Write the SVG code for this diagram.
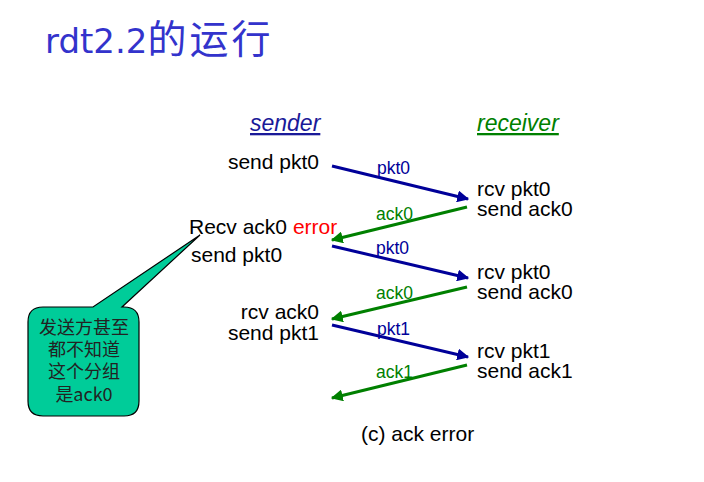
<svg xmlns="http://www.w3.org/2000/svg" width="704" height="482" viewBox="0 0 704 482">
<defs>
<style>
.t{font-family:"Liberation Sans",Arial,sans-serif;font-size:21px;fill:#000}
.lb{font-family:"Liberation Sans",Arial,sans-serif;font-size:17.5px}
.blue{stroke:#000099;stroke-width:3;fill:none}
.green{stroke:#008000;stroke-width:3;fill:none}
</style>
<marker id="ab" viewBox="0 0 10 10" refX="9" refY="5" markerWidth="4" markerHeight="4" orient="auto" markerUnits="strokeWidth"><path d="M0,0 L10,5 L0,10 Z" fill="#000099"/></marker>
<marker id="ag" viewBox="0 0 10 10" refX="9" refY="5" markerWidth="4" markerHeight="4" orient="auto" markerUnits="strokeWidth"><path d="M0,0 L10,5 L0,10 Z" fill="#008000"/></marker>
</defs>
<rect width="704" height="482" fill="#fff"/>
<g id="title"><text x="45" y="53" font-family="'DejaVu Sans','Noto Sans CJK SC',sans-serif" font-size="34" fill="#3333cc">rdt2.2<tspan font-family="'Noto Sans CJK SC',sans-serif" font-size="39" letter-spacing="3">的运行</tspan></text></g>
<g id="sender-head"><text x="250" y="131" font-family="'Liberation Sans',Arial,sans-serif" font-size="23" font-style="italic" fill="#1a1a99" text-decoration="underline">sender</text></g>
<g id="receiver-head"><text x="477" y="131" font-family="'Liberation Sans',Arial,sans-serif" font-size="23" font-style="italic" fill="#008000" text-decoration="underline">receiver</text></g>
<g id="sender-events">
<text class="t" x="319" y="169" text-anchor="end">send pkt0</text>
<text class="t" x="189" y="234">Recv ack0 <tspan fill="#ff0000">error</tspan></text>
<text class="t" x="191" y="262">send pkt0</text>
<text class="t" text-anchor="end"><tspan x="319" y="319">rcv ack0</tspan><tspan x="319" y="340">send pkt1</tspan></text>
</g>
<g id="receiver-events">
<text class="t"><tspan x="477" y="196">rcv pkt0</tspan><tspan x="477" y="216">send ack0</tspan></text>
<text class="t"><tspan x="477" y="279">rcv pkt0</tspan><tspan x="477" y="299">send ack0</tspan></text>
<text class="t"><tspan x="477" y="358">rcv pkt1</tspan><tspan x="477" y="378">send ack1</tspan></text>
</g>
<g id="connectors">
<line class="blue" x1="332" y1="166" x2="468" y2="199" marker-end="url(#ab)"/>
<line class="green" x1="467" y1="207" x2="332" y2="240" marker-end="url(#ag)"/>
<line class="blue" x1="332" y1="246" x2="468" y2="278" marker-end="url(#ab)"/>
<line class="green" x1="467" y1="287" x2="332" y2="319" marker-end="url(#ag)"/>
<line class="blue" x1="332" y1="325" x2="468" y2="357" marker-end="url(#ab)"/>
<line class="green" x1="467" y1="365" x2="332" y2="398" marker-end="url(#ag)"/>
<text class="lb" x="377" y="174" fill="#000099">pkt0</text>
<text class="lb" x="376" y="220" fill="#008000">ack0</text>
<text class="lb" x="376" y="254" fill="#000099">pkt0</text>
<text class="lb" x="376" y="299" fill="#008000">ack0</text>
<text class="lb" x="377" y="335" fill="#000099">pkt1</text>
<text class="lb" x="376" y="378" fill="#008000">ack1</text>
</g>
<g id="callout">
<path d="M43,307 L93,307 L200,235 L122,307 L124,307 Q139,307 139,322 L139,401 Q139,416 124,416 L43,416 Q28,416 28,401 L28,322 Q28,307 43,307 Z" fill="#00cc99" stroke="#000" stroke-width="1.2"/>
<text font-family="'Noto Sans CJK SC',sans-serif" font-size="18" fill="#222" text-anchor="middle"><tspan x="84" y="334">发送方甚至</tspan><tspan x="84" y="356">都不知道</tspan><tspan x="84" y="378">这个分组</tspan><tspan x="84" y="401">是ack0</tspan></text>
</g>
<g id="caption"><text class="t" x="361" y="441" font-size="22">(c) ack error</text></g>
</svg>
